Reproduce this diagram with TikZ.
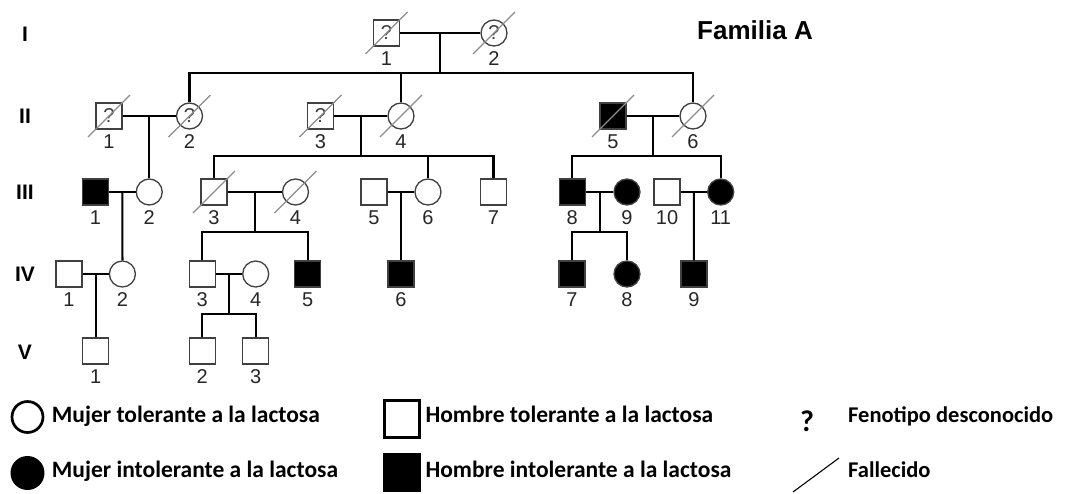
\documentclass[tikz,border=0pt]{standalone}
\usepackage{fontspec}
\setmainfont{Liberation Sans}
\newfontfamily\legendfont{Carlito}
\usetikzlibrary{calc}

% slash for a deceased person
\newcommand{\deceased}[1]{\draw[dead] ($(#1)+(-21,21)$) -- ($(#1)+(21,-21)$);}

\begin{document}
\begin{tikzpicture}[x=1pt,y=-1pt,
    male/.style={rectangle, draw=black!75, line width=1.3pt, fill=white, minimum size=26pt, inner sep=0pt, font=\fontsize{20}{20}\selectfont, text=black!75},
    female/.style={circle, draw=black!75, line width=1.3pt, fill=white, minimum size=26pt, inner sep=0pt, font=\fontsize{20}{20}\selectfont, text=black!75},
    affected/.style={fill=black},
    every label/.style={font=\fontsize{20}{20}\selectfont, inner sep=0pt, text=black!85},
    label distance=5pt,
    link/.style={line width=2.2pt},
    dead/.style={draw=black!45, line width=1.1pt},
    gen/.style={font=\bfseries\fontsize{21}{21}\selectfont},
    legtext/.style={anchor=base west, inner sep=0pt, font=\legendfont\bfseries\fontsize{23.5}{23.5}\selectfont}]
\useasboundingbox (0,0) rectangle (1066,493);

% generation labels
\foreach \g/\y in {I/34,II/116,III/192,IV/274,V/352}
    \node[gen] (gen\g) at (25,\y) {\g};
\node[font=\bfseries\fontsize{26}{26}\selectfont] (title) at (755,30) {Familia A};

% generation I
\node[male, label=below:1] (i1) at (386.5,33) {?};
\node[female, label=below:2] (i2) at (494,33) {?};

% generation II
\node[male, label=below:1] (ii1) at (109,116) {?};
\node[female, label=below:2] (ii2) at (189.5,116) {?};
\node[male, label=below:3] (ii3) at (320.5,116) {?};
\node[female, label=below:4] (ii4) at (401,116) {};
\node[male, affected, label=below:5] (ii5) at (613,116) {};
\node[female, label=below:6] (ii6) at (693,116) {};

% generation III
\node[male, affected, label=below:1] (iii1) at (95.5,192) {};
\node[female, label=below:2] (iii2) at (149.25,192) {};
\node[male, label=below:3] (iii3) at (214,192) {};
\node[female, label=below:4] (iii4) at (295.5,192) {};
\node[male, label=below:5] (iii5) at (374,192) {};
\node[female, label=below:6] (iii6) at (428,192) {};
\node[male, label=below:7] (iii7) at (493.5,192) {};
\node[male, affected, label=below:8] (iii8) at (572.3,192) {};
\node[female, affected, label=below:9] (iii9) at (627,192) {};
\node[male, label=below:10] (iii10) at (667,192) {};
\node[female, affected, label=below:11] (iii11) at (720.7,192) {};

% generation IV
\node[male, label=below:1] (iv1) at (69,274) {};
\node[female, label=below:2] (iv2) at (122.4,274) {};
\node[male, label=below:3] (iv3) at (202.3,274) {};
\node[female, label=below:4] (iv4) at (255.7,274) {};
\node[male, affected, label=below:5] (iv5) at (307.7,274) {};
\node[male, affected, label=below:6] (iv6) at (401,274) {};
\node[male, affected, label=below:7] (iv7) at (572,274) {};
\node[female, affected, label=below:8] (iv8) at (627,274) {};
\node[male, affected, label=below:9] (iv9) at (693.85,274) {};

% generation V
\node[male, label=below:1] (v1) at (95.7,351) {};
\node[male, label=below:2] (v2) at (202.3,351) {};
\node[male, label=below:3] (v3) at (255.7,351) {};

% deceased
\foreach \p in {i1,i2,ii1,ii2,ii3,ii4,ii5,ii6,iii3,iii4} {
    \deceased{\p}
}

% couples
\foreach \a/\b in {i1/i2,ii1/ii2,ii3/ii4,ii5/ii6,iii1/iii2,iii3/iii4,iii5/iii6,iii8/iii9,iii10/iii11,iv1/iv2,iv3/iv4}
    \draw[link] (\a) -- (\b);

% descent I
\coordinate (mI) at ($(i1)!.5!(i2)$);
\coordinate (sI) at ($(mI)+(0,40)$);
\draw[link] (mI) -- (sI);
\draw[link] (ii2.north) |- (ii6.north |- sI) -- (ii6.north);
\draw[link] (ii4.north) -- (ii4.north |- sI);

% descent II
\coordinate (mII1) at ($(ii1)!.5!(ii2)$);
\draw[link] (mII1) -- (iii2.north);
\coordinate (mII2) at ($(ii3)!.5!(ii4)$);
\coordinate (sII2) at ($(mII2)+(0,40)$);
\draw[link] (mII2) -- (sII2);
\draw[link] (iii3.north) |- (iii7.north |- sII2) -- (iii7.north);
\draw[link] (iii6.north) -- (iii6.north |- sII2);
\coordinate (mII3) at ($(ii5)!.5!(ii6)$);
\coordinate (sII3) at ($(mII3)+(0,40)$);
\draw[link] (mII3) -- (sII3);
\draw[link] (iii8.north) |- (iii11.north |- sII3) -- (iii11.north);

% descent III
\coordinate (mIII1) at ($(iii1)!.5!(iii2)$);
\draw[link] (mIII1) -- (iv2.north);
\coordinate (mIII2) at ($(iii3)!.5!(iii4)$);
\coordinate (sIII2) at ($(mIII2)+(0,40)$);
\draw[link] (mIII2) -- (sIII2);
\draw[link] (iv3.north) |- (iv5.north |- sIII2) -- (iv5.north);
\coordinate (mIII3) at ($(iii5)!.5!(iii6)$);
\draw[link] (mIII3) -- (iv6.north);
\coordinate (mIII4) at ($(iii8)!.5!(iii9)$);
\coordinate (sIII4) at ($(mIII4)+(0,40)$);
\draw[link] (mIII4) -- (sIII4);
\draw[link] (iv7.north) |- (iv8.north |- sIII4) -- (iv8.north);
\coordinate (mIII5) at ($(iii10)!.5!(iii11)$);
\draw[link] (mIII5) -- (iv9.north);

% descent IV
\coordinate (mIV1) at ($(iv1)!.5!(iv2)$);
\draw[link] (mIV1) -- (v1.north);
\coordinate (mIV2) at ($(iv3)!.5!(iv4)$);
\coordinate (sIV2) at ($(mIV2)+(0,40)$);
\draw[link] (mIV2) -- (sIV2);
\draw[link] (v2.north) |- (v3.north |- sIV2) -- (v3.north);

% legend
\node[circle, draw=black, line width=2.7pt, minimum size=31pt] (legF) at (27.5,417) {};
\node[circle, fill=black, minimum size=34pt] (legFa) at (27.5,473) {};
\node[rectangle, draw=black, line width=3.3pt, minimum width=35pt, minimum height=37pt] (legM) at (401.7,419.3) {};
\node[rectangle, fill=black, minimum width=38pt, minimum height=39pt] (legMa) at (401.7,472.3) {};
\node[font=\legendfont\bfseries\fontsize{30}{30}\selectfont] (legQ) at (807,421) {?};
\coordinate (legD1) at (793,492);
\coordinate (legD2) at (839,458);
\draw[line width=1.1pt] (legD1) -- (legD2);
\node[legtext] (txtF) at (51.7,422) {Mujer tolerante a la lactosa};
\node[legtext] (txtFa) at (51.7,477) {Mujer intolerante a la lactosa};
\node[legtext] (txtM) at (425.3,422) {Hombre tolerante a la lactosa};
\node[legtext] (txtMa) at (425.3,477) {Hombre intolerante a la lactosa};
\node[legtext, font=\legendfont\bfseries\fontsize{22.5}{22.5}\selectfont] (txtQ) at (848,422) {Fenotipo desconocido};
\node[legtext, font=\legendfont\bfseries\fontsize{22.5}{22.5}\selectfont] (txtD) at (848,477) {Fallecido};
\end{tikzpicture}
\end{document}
